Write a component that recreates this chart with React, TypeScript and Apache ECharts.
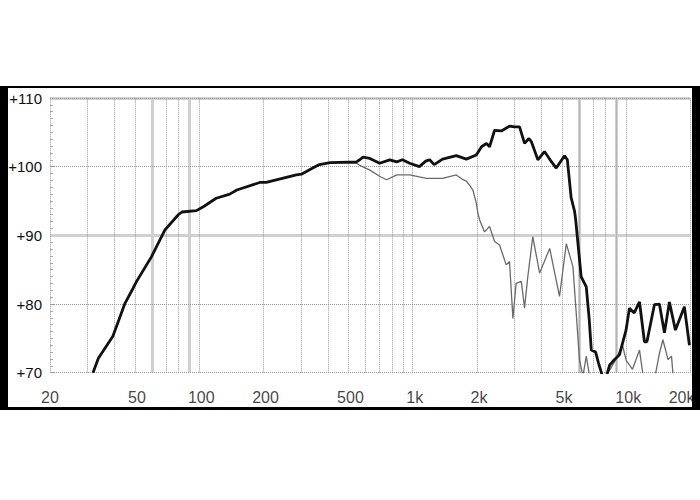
import React, { useEffect, useRef } from "react";
import * as echarts from "echarts";

const blackFreq = [31.8, 33.7, 39.4, 44.9, 49, 50.9, 59.8, 69.1, 79.8, 83, 97, 105, 120, 139, 150, 192, 206, 285, 301, 340, 366, 410, 545, 565, 585, 630, 700, 780, 842, 895, 968, 1074, 1150, 1200, 1260, 1380, 1600, 1782, 1985, 2100, 2215, 2290, 2418, 2600, 2840, 3000, 3165, 3340, 3500, 3600, 3855, 4140, 4400, 4700, 5140, 5300, 5520, 5730, 5800, 6150, 6500, 6700, 6860, 7190, 7400, 7620, 7800, 8000, 8360, 8800, 9290, 9980, 10350, 10900, 11540, 12170, 12500, 13550, 14300, 15100, 15930, 17000, 18720, 19770];
const blackDb = [70, 72.1, 75.3, 80.1, 82.3, 83.3, 86.9, 90.8, 93.0, 93.4, 93.6, 94.2, 95.4, 96.0, 96.6, 97.7, 97.7, 98.8, 98.9, 99.8, 100.3, 100.6, 100.7, 101.0, 101.4, 101.2, 100.5, 101.0, 100.7, 101.0, 100.5, 100.0, 100.8, 101.0, 100.3, 101.1, 101.6, 101.1, 101.7, 102.9, 103.4, 102.9, 105.3, 105.2, 105.9, 105.8, 105.8, 103.4, 104.1, 103.6, 101.0, 102.2, 101.0, 99.8, 101.6, 101.0, 95.5, 93.5, 92.2, 84.0, 82.5, 78.0, 73.3, 73.0, 71.5, 70.2, 69.0, 69.0, 71.1, 71.9, 72.6, 76.2, 79.4, 78.7, 80.3, 74.5, 74.5, 79.9, 80.0, 75.8, 80.3, 76.2, 79.6, 74.0];

const greyFreq = [31.8, 33.7, 39.4, 44.9, 49, 50.9, 59.8, 69.1, 79.8, 83, 97, 105, 120, 139, 150, 192, 206, 285, 301, 340, 366, 410, 545, 565, 630, 700, 753, 842, 968, 1074, 1160, 1380, 1600, 1720, 1782, 1847, 1913, 1985, 2020, 2060, 2170, 2290, 2418, 2550, 2740, 2840, 2946, 3050, 3225, 3340, 3460, 3650, 3930, 4380, 4870, 5240, 5630, 6040, 6270, 6500, 6730, 7200, 7800, 8054, 8380, 9030, 9600, 10000, 10700, 11540, 12000, 13000, 14300, 14850, 15700, 16300, 16630, 18000, 20000];
const greyDb = [70, 72.1, 75.3, 80.1, 82.3, 83.3, 86.9, 90.8, 93.0, 93.4, 93.6, 94.2, 95.4, 96.0, 96.6, 97.7, 97.7, 98.8, 98.9, 99.8, 100.3, 100.6, 100.5, 100.2, 99.5, 98.6, 98.1, 98.8, 98.8, 98.5, 98.3, 98.3, 98.8, 98.1, 97.9, 97.3, 96.6, 94.7, 93.2, 92.2, 90.5, 91.3, 89.1, 88.6, 85.7, 86.2, 77.9, 83.0, 83.3, 79.4, 84.0, 89.8, 84.5, 88.1, 81.1, 88.8, 85.4, 71.9, 69.5, 72.4, 69.5, 66, 66, 69.5, 70.4, 72.2, 74.0, 71.8, 70.5, 73.3, 69.5, 66, 72.8, 74.8, 71.9, 72.4, 69, 66, 66];

const xTickValues = [20, 50, 100, 200, 500, 1000, 2000, 5000, 10000, 20000];
const xTickLabels = ["20", "50", "100", "200", "500", "1k", "2k", "5k", "10k", "20k"];
const xDottedLines = [20, 30, 40, 50, 70, 80, 100, 200, 300, 400, 500, 600, 700, 800, 900, 1000, 2000, 3000, 4000, 5000, 6000, 7000, 8000, 9000, 10000, 20000];
const xThickLines = [60, 90, 6000, 9000];
const yDottedLines = [70, 80, 100, 110];
const yThickLines = [90, 110];

export default function App() {
  const ref = useRef<HTMLDivElement>(null);
  useEffect(() => {
    document.body.style.margin = "0";
    const chart = echarts.init(ref.current!, null, { renderer: "svg" });
    const thick = { color: "#d0d0d0", width: 3, type: "solid" };
    const dotted = { color: "#999999", width: 1, type: [1, 1] };
    const markData: any[] = [
      ...xThickLines.map((v) => ({ xAxis: v, lineStyle: thick })),
      ...yThickLines.map((v) => ({ yAxis: v, lineStyle: thick })),
      ...xDottedLines.map((v) => ({ xAxis: v, lineStyle: dotted })),
      ...yDottedLines.map((v) => ({ yAxis: v, lineStyle: dotted })),
    ];
    chart.setOption({
      animation: false,
      backgroundColor: "#ffffff",
      grid: { left: 50, right: 9.5, top: 98, bottom: 127.3 },
      xAxis: {
        type: "log",
        logBase: 10,
        min: 20,
        max: 20000,
        axisLine: { show: false },
        axisTick: { show: false },
        axisLabel: { show: false },
        splitLine: { show: false },
      },
      yAxis: {
        type: "value",
        min: 70,
        max: 110,
        interval: 10,
        axisLine: { show: false },
        splitLine: { show: false },
        axisTick: { show: true, inside: true, length: 4, lineStyle: { color: "#999" } },
        minorTick: { show: true, splitNumber: 10, length: 3, lineStyle: { color: "#aaa" } },
        axisLabel: {
          formatter: (v: number) => "+" + v,
          fontSize: 15,
          color: "#111",
          margin: 8,
          fontFamily: "Liberation Sans, Arial, sans-serif",
        },
      },
      series: [
        {
          type: "line",
          name: "off-axis",
          data: greyFreq.map((f, i) => [f, greyDb[i]]),
          symbol: "none",
          clip: true,
          z: 2,
          lineStyle: { color: "#6a6a6a", width: 1.3 },
          markLine: {
            silent: true,
            symbol: ["none", "none"],
            animation: false,
            label: { show: false },
            data: markData,
            z: 1,
          },
        },
        {
          type: "line",
          name: "on-axis",
          data: blackFreq.map((f, i) => [f, blackDb[i]]),
          symbol: "none",
          clip: true,
          z: 3,
          lineStyle: { color: "#111", width: 2.8 },
        },
        {
          type: "scatter",
          silent: true,
          symbolSize: 1,
          itemStyle: { color: "transparent" },
          data: xTickValues.map((v, i) => ({
            value: [v, 70],
            label:
              i === xTickValues.length - 1
                ? { align: "right", offset: [4, 0] }
                : i === 0
                ? { offset: [0, 0] }
                : { offset: [2, 0] },
          })),
          label: {
            show: true,
            position: "bottom",
            distance: 16,
            formatter: (p: any) => xTickLabels[p.dataIndex],
            fontSize: 16,
            color: "#111",
            fontFamily: "Liberation Sans, Arial, sans-serif",
          },
          z: 4,
        },
      ],
      graphic: [
        { type: "rect", z: 100, shape: { x: 0, y: 86, width: 700, height: 2 }, style: { fill: "#000" } },
        { type: "rect", z: 100, shape: { x: 0, y: 86, width: 8, height: 324 }, style: { fill: "#000" } },
        { type: "rect", z: 100, shape: { x: 692, y: 86, width: 8, height: 324 }, style: { fill: "#000" } },
        { type: "rect", z: 100, shape: { x: 0, y: 407, width: 700, height: 3 }, style: { fill: "#000" } },
      ],
    });
    return () => chart.dispose();
  }, []);
  return <div ref={ref} style={{ width: 700, height: 500 }} />;
}
